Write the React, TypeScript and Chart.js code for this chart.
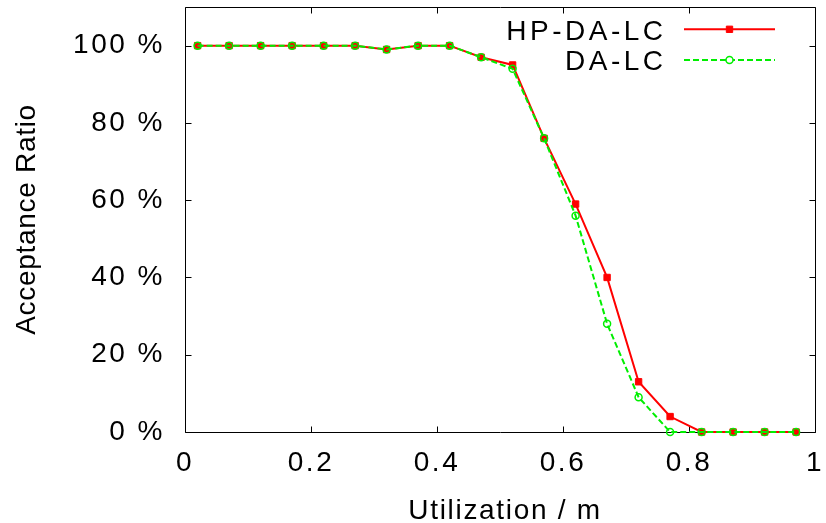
import React, { useEffect, useRef } from 'react';
import { Chart, registerables } from 'chart.js';

Chart.register(...registerables);

const utilization = [0.02, 0.07, 0.12, 0.17, 0.22, 0.27, 0.32, 0.37, 0.42, 0.47, 0.52, 0.57, 0.62, 0.67, 0.72, 0.77, 0.82, 0.87, 0.92, 0.97];
const hpDaLc = [100, 100, 100, 100, 100, 100, 99, 100, 100, 97, 95, 76, 59, 40, 13, 4, 0, 0, 0, 0];
const daLc = [100, 100, 100, 100, 100, 100, 99, 100, 100, 97, 94, 76, 56, 28, 9, 0, 0, 0, 0, 0];
const xTickValues = [0, 0.2, 0.4, 0.6, 0.8, 1];
const yTickValues = [0, 20, 40, 60, 80, 100];
const seriesNames = ['HP-DA-LC', 'DA-LC'];
const xTitle = 'Utilization / m';
const yTitle = 'Acceptance Ratio';

const FONT_FAMILY = '"Liberation Sans", Arial, sans-serif';
const FONT = `28px ${FONT_FAMILY}`;
const TICK_SPACING = '2.5px';

const RED = '#ff0000';
const GREEN = '#00ee00';

const spacingPlugin = {
  id: 'spacing',
  beforeLayout(chart: any) {
    chart.ctx.letterSpacing = TICK_SPACING;
  },
  beforeDraw(chart: any) {
    chart.ctx.letterSpacing = TICK_SPACING;
  },
};

const framePlugin = {
  id: 'frame',
  beforeDatasetsDraw(chart: any) {
    const { ctx } = chart;
    const xs = chart.scales.x;
    const ys = chart.scales.y;
    const left = Math.round(xs.getPixelForValue(0)) + 0.5;
    const right = Math.round(xs.getPixelForValue(1)) + 0.5;
    const top = Math.round(ys.top) + 0.5;
    const bottom = Math.round(ys.getPixelForValue(0)) + 0.5;
    const tl = 6;
    ctx.save();
    ctx.strokeStyle = '#000';
    ctx.lineWidth = 1;
    ctx.beginPath();
    ctx.rect(left, top, right - left, bottom - top);
    for (const v of xTickValues) {
      const px = Math.round(xs.getPixelForValue(v)) + 0.5;
      ctx.moveTo(px, bottom);
      ctx.lineTo(px, bottom - tl);
      ctx.moveTo(px, top);
      ctx.lineTo(px, top + tl);
    }
    for (const v of yTickValues) {
      const py = Math.round(ys.getPixelForValue(v)) + 0.5;
      ctx.moveTo(left, py);
      ctx.lineTo(left + tl, py);
      ctx.moveTo(right, py);
      ctx.lineTo(right - tl, py);
    }
    ctx.stroke();
    ctx.restore();
  },
};

const textPlugin = {
  id: 'customText',
  afterDraw(chart: any) {
    const { ctx } = chart;
    const xs = chart.scales.x;
    const ys = chart.scales.y;
    ctx.save();
    ctx.font = FONT;
    ctx.fillStyle = '#000';
    ctx.textBaseline = 'alphabetic';

    // axis titles
    ctx.letterSpacing = '1.7px';
    ctx.textAlign = 'center';
    ctx.fillText(xTitle, (xs.left + xs.right) / 2 + 5, 519);

    ctx.save();
    ctx.letterSpacing = '0.7px';
    ctx.translate(34.5, (ys.top + ys.bottom) / 2);
    ctx.rotate(-Math.PI / 2);
    ctx.textAlign = 'center';
    ctx.fillText(yTitle, 0, 0);
    ctx.restore();

    // legend
    const textRight = 663;
    const lineStart = 684;
    const lineEnd = 775;
    const lineYs = [29.3, 60];
    const baseYs = [39.5, 70];
    ctx.letterSpacing = '3.5px';
    ctx.textAlign = 'right';
    seriesNames.forEach((name, i) => {
      const ds = chart.data.datasets.find((d: any) => d.label === name);
      const y = lineYs[i];
      ctx.fillText(name, textRight + 3.5, baseYs[i]);
      ctx.save();
      ctx.strokeStyle = ds.borderColor;
      ctx.lineWidth = ds.borderWidth;
      ctx.setLineDash(ds.borderDash || []);
      ctx.beginPath();
      ctx.moveTo(lineStart, y);
      ctx.lineTo(lineEnd, y);
      ctx.stroke();
      ctx.restore();
      ctx.save();
      ctx.setLineDash([]);
      ctx.lineWidth = ds.pointBorderWidth;
      ctx.strokeStyle = ds.pointBorderColor;
      const cx = (lineStart + lineEnd) / 2;
      if (ds.pointStyle === 'rect') {
        const s = Math.SQRT1_2 * ds.pointRadius;
        ctx.fillStyle = ds.pointBackgroundColor;
        ctx.beginPath();
        ctx.rect(cx - s, y - s, 2 * s, 2 * s);
        ctx.fill();
        ctx.stroke();
      } else {
        ctx.beginPath();
        ctx.arc(cx, y, ds.pointRadius, 0, Math.PI * 2);
        ctx.fillStyle = '#fff';
        ctx.fill();
        ctx.stroke();
      }
      ctx.restore();
    });
    ctx.restore();
  },
};

export default function App() {
  const canvasRef = useRef<HTMLCanvasElement | null>(null);

  useEffect(() => {
    const canvas = canvasRef.current;
    if (!canvas) return;
    const chart = new Chart(canvas, {
      type: 'line',
      data: {
        datasets: [
          {
            label: seriesNames[1],
            data: utilization.map((x, i) => ({ x, y: daLc[i] })),
            borderColor: GREEN,
            backgroundColor: GREEN,
            borderWidth: 2,
            borderDash: [6, 3],
            pointStyle: 'circle',
            pointRadius: 3.5,
            pointBorderWidth: 1.5,
            pointBorderColor: GREEN,
            pointBackgroundColor: 'rgba(0,0,0,0)',
            tension: 0,
            clip: false,
            order: 0,
          } as any,
          {
            label: seriesNames[0],
            data: utilization.map((x, i) => ({ x, y: hpDaLc[i] })),
            borderColor: RED,
            backgroundColor: RED,
            borderWidth: 2,
            pointStyle: 'rect',
            pointRadius: 4.5,
            pointBorderWidth: 1,
            pointBorderColor: RED,
            pointBackgroundColor: RED,
            tension: 0,
            clip: false,
            order: 1,
          } as any,
        ],
      },
      options: {
        responsive: false,
        animation: false,
        devicePixelRatio: 1,
        layout: { padding: { top: 7, right: 11, left: 0, bottom: 0 } },
        plugins: {
          legend: { display: false },
          tooltip: { enabled: false },
        },
        scales: {
          x: {
            type: 'linear',
            min: 0,
            max: 1,
            afterBuildTicks: (scale: any) => {
              scale.ticks = xTickValues.map((v) => ({ value: v }));
            },
            afterFit: (scale: any) => {
              scale.height = 91;
              scale.paddingLeft = 0;
              scale.paddingRight = 0;
            },
            grid: { display: false, drawTicks: false },
            border: { display: false },
            ticks: {
              padding: 14,
              color: '#000',
              maxRotation: 0,
              autoSkip: false,
              font: { family: FONT_FAMILY, size: 28, lineHeight: 1.2 },
              callback: (v: any) => String(Math.round(Number(v) * 10) / 10),
            },
            title: { display: false },
          },
          y: {
            type: 'linear',
            min: 0,
            max: 110,
            afterBuildTicks: (scale: any) => {
              scale.ticks = yTickValues.map((v) => ({ value: v }));
            },
            afterFit: (scale: any) => {
              scale.width = 185;
              scale.paddingTop = 0;
              scale.paddingBottom = 0;
            },
            grid: { display: false, drawTicks: false },
            border: { display: false },
            ticks: {
              padding: 20,
              color: '#000',
              autoSkip: false,
              font: { family: FONT_FAMILY, size: 28, lineHeight: 1.2 },
              callback: (v: any) => `${v} %`,
            },
            title: { display: false },
          },
        },
      },
      plugins: [spacingPlugin, framePlugin, textPlugin],
    });
    return () => chart.destroy();
  }, []);

  return (
    <div style={{ position: 'fixed', left: 0, top: 0, width: 826, height: 523, background: '#fff' }}>
      <canvas ref={canvasRef} width={826} height={523} style={{ display: 'block', width: 826, height: 523 }} />
    </div>
  );
}
